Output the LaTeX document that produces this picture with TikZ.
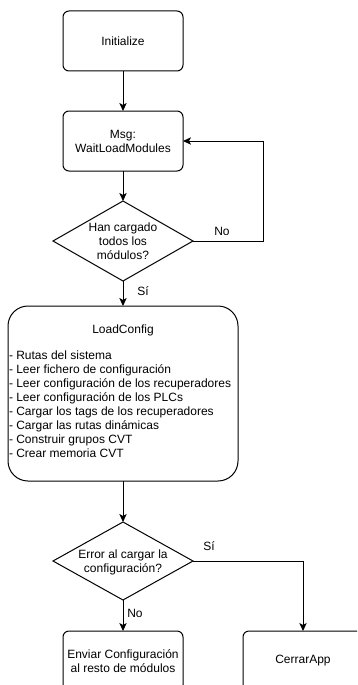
\documentclass[tikz,border=0pt]{standalone}
\usepackage{fontspec}
\setmainfont{Liberation Sans}
\usetikzlibrary{shapes.geometric,arrows.meta}
\begin{document}
\begin{tikzpicture}[x=0.75pt,y=-0.75pt,
  font=\fontsize{9}{10.5}\selectfont,
  every node/.style={inner sep=0pt, outer sep=0pt},
  box/.style={draw, rounded corners=4.5pt, line width=0.75pt, minimum width=90pt, minimum height=45pt, align=center},
  bigbox/.style={draw, rounded corners=15pt, line width=0.75pt, minimum width=172.5pt, minimum height=131.25pt},
  dec/.style={draw, diamond, line width=0.75pt, minimum width=105pt, minimum height=60pt},
  lbl/.style={align=center},
  arr/.style={line width=0.75pt, -{Stealth[length=6pt,width=5.5pt,inset=1.5pt]}}
]
\useasboundingbox (0,0) rectangle (357,685);
\clip (0,0) rectangle (357,685);

\node[box] (init) at (123,41) {Initialize};
\node[box] (msg) at (123,141) {Msg:\\WaitLoadModules};
\node[dec, minimum height=60pt] (d1) at (123,241) {};
\node[lbl] (d1t) at (123,241) {Han cargado\\todos los\\módulos?};
\node[bigbox] (lc) at (123,393.5) {};
\node (lct) at (123,330) {LoadConfig};
\node[anchor=north west, align=left] (lcl) at (9,351) {- Rutas del sistema\\
- Leer fichero de configuración\\
- Leer configuración de los recuperadores\\
- Leer configuración de los PLCs\\
- Cargar los tags de los recuperadores\\
- Cargar las rutas dinámicas\\
- Construir grupos CVT\\
- Crear memoria CVT};
\node[dec, minimum height=58.5pt] (d2) at (123,561) {};
\node[lbl] (d2t) at (123,562) {Error al cargar la\\configuración?};
\node[box] (env) at (123,661) {Enviar Configuración\\al resto de módulos};
\node[box] (cer) at (303,661) {CerrarApp};

\coordinate (c1) at (263,241);

\draw[arr] (init) -- (msg);
\draw[arr] (msg) -- (d1);
\draw[arr] (d1.east) -- (c1) |- (msg.east);
\draw[arr] (d1) -- (lc);
\draw[arr] (lc) -- (d2);
\draw[arr] (d2.east) -| (cer.north);
\draw[arr] (d2) -- (env);

\node (no1) at (222,231) {No};
\node (si1) at (143,291) {Sí};
\node (si2) at (209,546) {Sí};
\node (no2) at (135,613) {No};
\end{tikzpicture}
\end{document}
